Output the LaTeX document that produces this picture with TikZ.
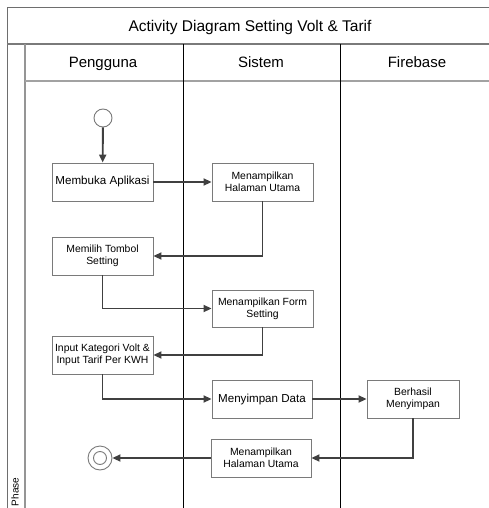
\documentclass[tikz,border=0pt]{standalone}
\usepackage{fontspec}
\setmainfont{Liberation Sans}
\usetikzlibrary{arrows.meta}
\definecolor{boxline}{HTML}{7A7A7A}
\definecolor{arrowcol}{HTML}{404040}
\definecolor{frameline}{HTML}{6E6E6E}
\tikzset{
  actbox/.style={draw=boxline, line width=0.9pt, fill=white, inner sep=1pt, align=center, minimum width=101pt, minimum height=38pt, font=\fontsize{10.4}{12}\selectfont},
  bigtext/.style={font=\fontsize{11.6}{13}\selectfont},
  flow/.style={draw=arrowcol, line width=1.9pt, -{Triangle[length=8pt,width=7pt]}},
  laneline/.style={draw=black, line width=0.8pt},
  hdr/.style={font=\fontsize{15}{18}\selectfont, anchor=base},
}
\begin{document}
\begin{tikzpicture}[x=1pt,y=-1pt]
\useasboundingbox (0,0) rectangle (489,508);
\fill[white] (0,0) rectangle (489,508);
% frame
\draw[frameline, line width=1pt] (7,8) -- (495,8);
\draw[frameline, line width=1pt] (7,8) -- (7,515);
\draw[boxline, line width=1.6pt] (7,44) -- (495,44);
\draw[boxline!80, line width=1.8pt] (25,44) -- (25,515);
\draw[boxline!70, line width=1.4pt] (25,81) -- (495,81);
\draw[laneline] (183,44) -- (183,515);
\draw[laneline] (340,44) -- (340,515);
% texts of frame
\node[font=\fontsize{15.5}{18}\selectfont, anchor=base] (title) at (250,32) {Activity Diagram Setting Volt \& Tarif};
\node[hdr] (h1) at (103,68) {Pengguna};
\node[hdr] (h2) at (261,68) {Sistem};
\node[hdr] (h3) at (417,68) {Firebase};
\node[rotate=90, font=\fontsize{10}{12}\selectfont] (phase) at (15,492) {Phase};
% start and end
\node[circle, draw=boxline, line width=0.9pt, fill=white, minimum size=18pt, inner sep=0pt] (start) at (103,118) {};
\node[circle, draw=boxline, line width=0.9pt, fill=white, minimum size=24pt, inner sep=0pt] (end) at (100,458) {};
\node[circle, draw=boxline, line width=0.9pt, minimum size=13pt, inner sep=0pt] (endin) at (100,458) {};
% activities
\node[actbox, bigtext] (membuka) at (102.5,182) {Membuka Aplikasi};
\node[actbox] (mhu1) at (262.5,182) {Menampilkan\\Halaman Utama};
\node[actbox] (memilih) at (102.5,256) {Memilih Tombol\\Setting};
\node[actbox, minimum height=37pt] (form) at (262.5,308.5) {Menampilkan Form\\Setting};
\node[actbox] (input) at (102.5,355) {Input Kategori Volt \&\\Input Tarif Per KWH};
\node[actbox, bigtext, minimum width=100pt] (simpan) at (262,399) {Menyimpan Data};
\node[actbox, minimum width=92pt] (berhasil) at (413,399) {Berhasil\\Menyimpan};
\node[actbox, minimum width=100pt] (mhu2) at (261,458) {Menampilkan\\Halaman Utama};
% flows
\draw[flow] (start) -- (membuka);
\draw[flow] (membuka) -- (mhu1);
\draw[flow] (mhu1.south) |- (memilih.east);
\draw[flow] (memilih.south) |- (form.west);
\draw[flow] (form.south) |- (input.east);
\draw[flow] (input.south) |- (simpan.west);
\draw[flow] (simpan) -- (berhasil);
\draw[flow] (berhasil.south) |- (mhu2.east);
\draw[flow] (mhu2.west) -- (end.east);
\end{tikzpicture}
\end{document}
